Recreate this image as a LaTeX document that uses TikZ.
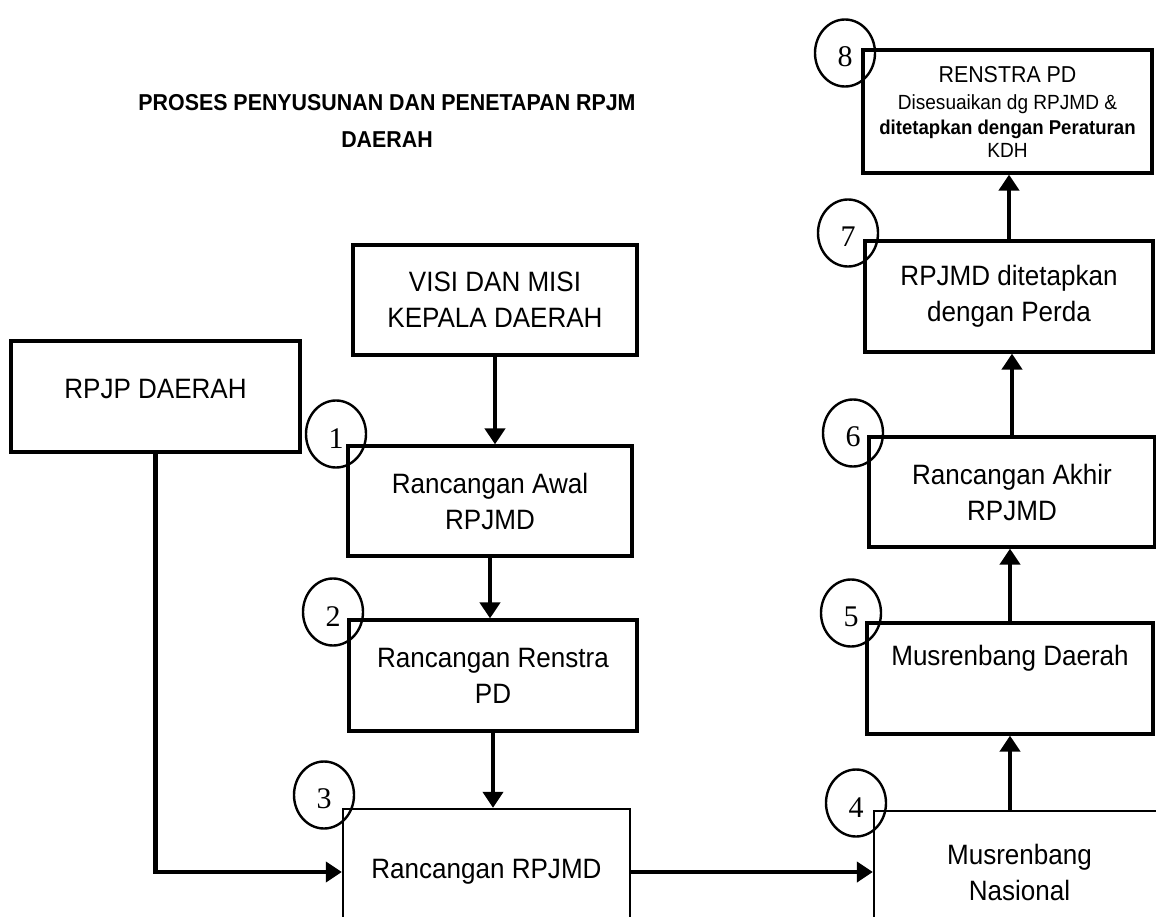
\documentclass[tikz,border=0pt]{standalone}
\usepackage{fontspec}
\setmainfont{Liberation Sans}[FakeStretch=0.93]
\newfontfamily\numfont{Liberation Serif}
\usetikzlibrary{arrows.meta,shapes.geometric}

\begin{document}
\begin{tikzpicture}[x=1pt, y=-1pt,
    box/.style={draw, line width=3.2pt, align=center, inner sep=0pt, font=\fontsize{28}{36}\selectfont},
    thinbox/.style={box, line width=2.3pt},
    num/.style={draw, ellipse, line width=2.4pt, minimum width=60pt, minimum height=67pt, inner sep=0pt, text height=28pt, font=\numfont\fontsize{30}{30}\selectfont},
    flow/.style={line width=4.5pt, -{Triangle[length=16pt,width=20pt]}}]
    \useasboundingbox (0,0) rectangle (1156,917);
    \clip (0,0) rectangle (1156,917);

    % Title
    \node[align=center, font=\bfseries\fontsize{23}{37}\selectfont] (title) at (387,121) {PROSES PENYUSUNAN DAN PENETAPAN RPJM\\DAERAH};

    % Left column
    \node[box, minimum width=284pt, minimum height=110pt] (visi) at (495,300) {VISI DAN MISI\\KEPALA DAERAH};
    \node[box, minimum width=289pt, minimum height=111pt, text depth=16pt] (rpjp) at (155.5,396.5) {RPJP DAERAH};
    \node[box, minimum width=284pt, minimum height=110pt] (awal) at (490,501) {Rancangan Awal\\RPJMD};
    \node[box, minimum width=288pt, minimum height=111pt] (renstra) at (493,675.5) {Rancangan Renstra\\PD};
    \node[thinbox, minimum width=287pt, minimum height=126pt] (rancangan) at (486.5,872) {Rancangan RPJMD};

    % Right column
    \node[thinbox, minimum width=291pt, minimum height=122pt] (nasional) at (1019.5,872) {Musrenbang\\Nasional};
    \node[box, minimum width=286pt, minimum height=111pt] (daerah) at (1010,678.5) {Musrenbang Daerah\\\strut};
    \node[box, minimum width=286pt, minimum height=110pt] (akhir) at (1012,492) {Rancangan Akhir\\RPJMD};
    \node[box, minimum width=288pt, minimum height=111pt] (perda) at (1009,296.5) {RPJMD ditetapkan\\dengan Perda};
    \node[box, minimum width=289pt, minimum height=123pt] (renstrapd) at (1007.5,111.5)
        {{\fontsize{23}{25}\selectfont RENSTRA PD}\\[-9pt]
         {\fontsize{20.5}{25}\selectfont Disesuaikan dg RPJMD \&}\\[-11pt]
         {\fontsize{20}{25}\selectfont\bfseries ditetapkan dengan Peraturan}\\[-13pt]
         {\fontsize{20.5}{25}\selectfont KDH}};

    % Step numbers
    \foreach \n/\x/\y in {1/336/434, 2/333/612, 3/324/795, 4/856/803, 5/851/613, 6/853/433, 7/848/233, 8/845/53} {
        \node[num] (n\n) at (\x,\y) {\n};
    }

    % Arrows
    \draw[flow] (visi.south) -- (visi.south |- awal.north);
    \draw[flow] (awal.south) -- (awal.south |- renstra.north);
    \draw[flow] (renstra.south) -- (renstra.south |- rancangan.north);
    \draw[flow] (rpjp.south) |- (rancangan.west);
    \draw[flow] (rancangan.east) -- (nasional.west);
    \draw[flow] (daerah.south |- nasional.north) -- (daerah.south);
    \draw[flow] (daerah.north) -- (daerah.north |- akhir.south);
    \draw[flow] (akhir.north) -- (akhir.north |- perda.south);
    \draw[flow] (perda.north) -- (perda.north |- renstrapd.south);
\end{tikzpicture}
\end{document}
